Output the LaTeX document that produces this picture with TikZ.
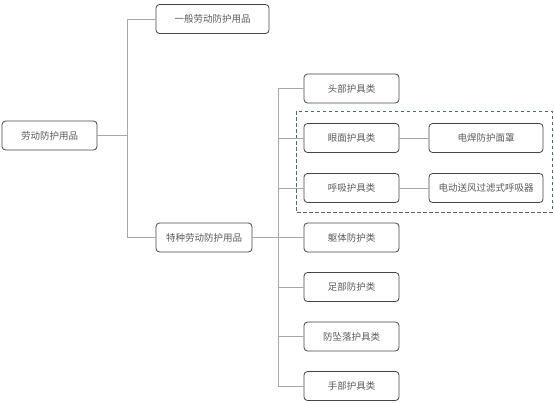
\documentclass[tikz,border=0pt]{standalone}
\usepackage{fontspec}
\newfontfamily\cjk{Noto Sans CJK SC}
\definecolor{boxgray}{HTML}{454545}
\definecolor{textgray}{HTML}{5A5A5A}
\definecolor{linegray}{HTML}{A8A8A8}
\definecolor{framblue}{HTML}{4A6790}
\begin{document}
\begin{tikzpicture}[x=1pt,y=-1pt,
    box/.style={draw=boxgray, line width=0.8pt, rounded corners=3.5pt, minimum height=29pt,
      inner sep=0pt, text=textgray, font=\cjk\fontsize{9.5}{11}\selectfont},
    link/.style={draw=linegray, line width=0.8pt}]
    \useasboundingbox (0,0) rectangle (554,402);
    \node[box, minimum width=95pt] (root) at (49.5,135.5) {劳动防护用品};
    \node[box, minimum width=113pt] (gen) at (212.5,19) {一般劳动防护用品};
    \node[box, minimum width=96pt] (spec) at (204,237.5) {特种劳动防护用品};
    \foreach \name/\y/\txt in {head/88.5/头部护具类, eye/138/眼面护具类, resp/188/呼吸护具类,
        body/237.5/躯体防护类, foot/287/足部防护类, fall/336.5/防坠落护具类, hand/386/手部护具类}
      \node[box, minimum width=95pt] (\name) at (351.5,\y) {\txt};
    \node[box, minimum width=114pt] (weld) at (486,138) {电焊防护面罩};
    \node[box, minimum width=114pt] (pump) at (486,188) {电动送风过滤式呼吸器};
    % dashed frame
    \draw[framblue, line width=0.8pt, dash pattern=on 3.5pt off 2.5pt] (296,111) rectangle (552,212);
    \coordinate (j1) at (127,135.5);
    \coordinate (j2) at (278,237.5);
    \draw[link] (root.east) -- (j1);
    \draw[link] (j1) |- (gen.west);
    \draw[link] (j1) |- (spec.west);
    \draw[link] (spec.east) -- (j2);
    \foreach \name in {head,eye,resp,body,foot,fall,hand}
      \draw[link] (j2) |- (\name.west);
    \draw[link] (eye.east) -- (weld.west);
    \draw[link] (resp.east) -- (pump.west);
  \end{tikzpicture}
\end{document}
